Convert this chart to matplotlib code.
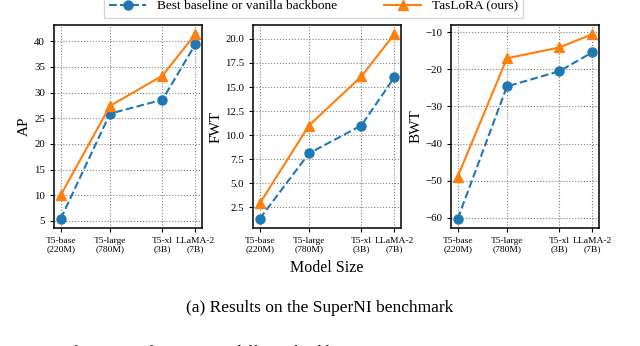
import matplotlib
matplotlib.use('Agg')
import matplotlib.pyplot as plt

plt.rcParams['font.family'] = ['Liberation Serif', 'DejaVu Serif']
plt.rcParams['mathtext.fontset'] = 'stix'

models = ['T5-base\n(220M)', 'T5-large\n(780M)', 'T5-xl\n(3B)', 'LLaMA-2\n(7B)']
params = [220e6, 780e6, 3e9, 7e9]

ap_base = [5.4, 25.9, 28.6, 39.4]
ap_ours = [10.0, 27.4, 33.3, 41.4]
fwt_base = [1.3, 8.1, 11.0, 16.0]
fwt_ours = [2.9, 11.0, 16.1, 20.5]
bwt_base = [-60.3, -24.6, -20.5, -15.4]
bwt_ours = [-48.9, -17.0, -14.1, -10.5]

metrics = ['AP', 'FWT', 'BWT']
base_vals = [ap_base, fwt_base, bwt_base]
ours_vals = [ap_ours, fwt_ours, bwt_ours]

fig = plt.figure(figsize=(6.4, 3.46), dpi=100)
lefts = [0.0844, 0.3953, 0.7047]
axes = []
for i in range(3):
    ax = fig.add_axes([lefts[i], 0.341, 0.2313, 0.587])
    axes.append(ax)
    l1, = ax.plot(params, base_vals[i], '--o', color='#1f77b4', lw=1.5, ms=6.5,
                  label='Best baseline or vanilla backbone')
    l2, = ax.plot(params, ours_vals[i], '-^', color='#ff7f0e', lw=1.5, ms=7,
                  label='TasLoRA (ours)')
    ax.set_xscale('log')
    ax.set_xticks(params)
    ax.set_xticklabels(models, fontsize=6.8, linespacing=1.0)
    ax.minorticks_off()
    ax.tick_params(axis='y', labelsize=7.8, length=3)
    ax.tick_params(axis='x', length=3)
    ax.grid(True, linestyle=':', color='gray', lw=0.8)
    ax.set_ylabel(metrics[i], fontsize=11, labelpad=2)
    for s in ax.spines.values():
        s.set_linewidth(1.1)

axes[0].set_yticks([5, 10, 15, 20, 25, 30, 35, 40])
axes[1].set_yticks([2.5, 5.0, 7.5, 10.0, 12.5, 15.0, 17.5, 20.0])
axes[1].set_yticklabels(['2.5', '5.0', '7.5', '10.0', '12.5', '15.0', '17.5', '20.0'])
axes[2].set_yticks([-60, -50, -40, -30, -20, -10])
axes[1].set_xlabel('Model Size', fontsize=11.5, labelpad=5)

fig.legend(handles=[l1, l2], loc='upper center', bbox_to_anchor=(0.49, 1.035),
           ncol=2, fontsize=9.6, frameon=True, fancybox=False, edgecolor='#cccccc',
           handlelength=2.8, columnspacing=3.5)

fig.text(0.5, 0.11, '(a) Results on the SuperNI benchmark', ha='center', va='center',
         fontsize=12.5)
fig.text(0.003, 0.004, 'Fig. 4: Performance of TaSL w.r.t. different backbones.',
         ha='left', va='top', fontsize=12)

fig.savefig('out.png', dpi=100)
